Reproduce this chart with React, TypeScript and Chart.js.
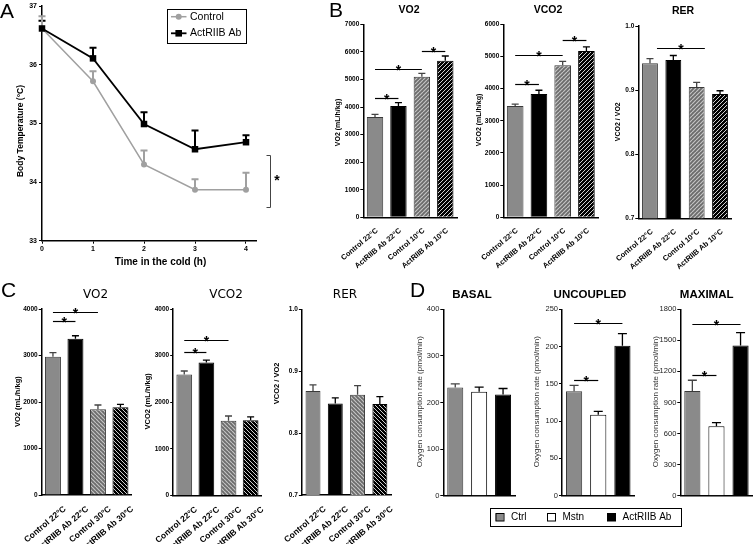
import React, { useEffect, useRef } from "react";
import { Chart, registerables } from "chart.js";

Chart.register(...registerables);

const FONT = "'Liberation Sans', Arial, Helvetica, sans-serif";
Chart.defaults.font.family = FONT;
Chart.defaults.color = "#000";

// ---------------- Panel A data ----------------
const aHours = [0, 1, 2, 3, 4];
const aControlMean = [36.62, 35.72, 34.3, 33.87, 33.87];
const aControlSem = [0.21, 0.17, 0.24, 0.18, 0.29];
const aAbMean = [36.62, 36.11, 34.99, 34.56, 34.68];
const aAbSem = [0.13, 0.18, 0.2, 0.32, 0.12];

// ---------------- Panel B data ----------------
const bLabels = ["Control 22°C", "ActRIIB Ab 22°C", "Control 10°C", "ActRIIB Ab 10°C"];
const bVo2 = [3640, 4040, 5100, 5680];
const bVo2Sem = [95, 120, 120, 170];
const bVco2 = [3460, 3835, 4725, 5170];
const bVco2Sem = [60, 115, 125, 130];
const bRer = [0.942, 0.947, 0.905, 0.894];
const bRerSem = [0.007, 0.007, 0.007, 0.005];
const bVo2Sig = [[0, 1, 4340], [0, 2, 5370], [2, 3, 6030]];
const bVco2Sig = [[0, 1, 4130], [0, 2, 5050], [2, 3, 5510]];
const bRerSig = [[0.3, 2.35, 0.965]];

// ---------------- Panel C data ----------------
const cLabels = ["Control 22°C", "ActRIIB Ab 22°C", "Control 30°C", "ActRIIB Ab 30°C"];
const cVo2 = [2975, 3360, 1845, 1885];
const cVo2Sem = [85, 65, 90, 65];
const cVco2 = [2595, 2855, 1605, 1615];
const cVco2Sem = [75, 50, 100, 70];
const cRer = [0.868, 0.848, 0.862, 0.847];
const cRerSem = [0.01, 0.009, 0.015, 0.012];
const cVo2Sig = [[0, 1, 3735], [0, 2, 3930]];
const cVco2Sig = [[0, 1, 3070], [0, 2, 3340]];

// ---------------- Panel D data ----------------
const dLabels = ["Ctrl", "Mstn", "ActRIIB Ab"];
const dBasal = [232, 223, 217];
const dBasalSem = [8, 10, 13];
const dUncoupled = [140, 108.5, 201];
const dUncoupledSem = [8, 4.5, 16.5];
const dMaximal = [1010, 670, 1450];
const dMaximalSem = [105, 35, 125];
const dUncSig = [[0, 1, 155.5], [0, 2, 231]];
const dMaxSig = [[0, 1, 1163], [0, 2, 1655]];

// ---------------- types ----------------
type Box = { l: number; t: number; r: number; b: number };
type Txt = {
  text: string; x: number; y: number; font: string; color?: string;
  align?: CanvasTextAlign; baseline?: CanvasTextBaseline; rot?: boolean;
};
type Err = { ds: number; sem: number[]; color: string[]; width: number; cap: number };
type Deco = {
  texts: Txt[]; errors: Err[]; errorsBelow?: boolean; sigs?: number[][];
  extra?: (ctx: CanvasRenderingContext2D) => void;
};
type Geo = { x: number; y: number; w: number; h: number; ml: number; mt: number; mr: number; mb: number };
type Spec = { plot: Box; margin: Box; build: (pat: Record<string, any>, g: Geo) => any };

function geom(s: Spec): Geo {
  const x = Math.max(0, Math.floor(s.plot.l - s.margin.l));
  const y = Math.max(0, Math.floor(s.plot.t - s.margin.t));
  const x2 = Math.min(754, Math.ceil(s.plot.r + s.margin.r));
  const y2 = Math.min(544, Math.ceil(s.plot.b + s.margin.b));
  return { x, y, w: x2 - x, h: y2 - y, ml: s.plot.l - x, mt: s.plot.t - y, mr: x2 - s.plot.r, mb: y2 - s.plot.b };
}

function decoPlugin(d: Deco, ox: number, oy: number) {
  const drawErrors = (chart: any) => {
    const ctx: CanvasRenderingContext2D = chart.ctx;
    const ys = chart.scales.y;
    for (const e of d.errors) {
      const meta = chart.getDatasetMeta(e.ds);
      const raw = chart.data.datasets[e.ds].data;
      meta.data.forEach((el: any, i: number) => {
        const r = raw[i];
        const v = typeof r === "number" ? r : r.y;
        const top = ys.getPixelForValue(v + e.sem[i]);
        ctx.save();
        ctx.strokeStyle = e.color[i];
        ctx.lineWidth = e.width;
        ctx.beginPath();
        ctx.moveTo(el.x, el.y);
        ctx.lineTo(el.x, top);
        ctx.moveTo(el.x - e.cap / 2, top);
        ctx.lineTo(el.x + e.cap / 2, top);
        ctx.stroke();
        ctx.restore();
      });
    }
  };
  return {
    id: "deco",
    beforeDatasetsDraw(chart: any) {
      if (d.errorsBelow) drawErrors(chart);
    },
    afterDatasetsDraw(chart: any) {
      if (!d.errorsBelow) drawErrors(chart);
      const ctx: CanvasRenderingContext2D = chart.ctx;
      const xs = chart.scales.x;
      const ys = chart.scales.y;
      for (const s of d.sigs ?? []) {
        const x1 = xs.getPixelForValue(s[0]);
        const x2 = xs.getPixelForValue(s[1]);
        const y = Math.round(ys.getPixelForValue(s[2])) + 0.5;
        ctx.save();
        ctx.strokeStyle = "#000";
        ctx.lineWidth = 1.2;
        ctx.beginPath();
        ctx.moveTo(x1, y);
        ctx.lineTo(x2, y);
        ctx.stroke();
        ctx.fillStyle = "#000";
        ctx.font = `bold 14px ${FONT}`;
        ctx.textAlign = "center";
        ctx.textBaseline = "alphabetic";
        ctx.fillText("*", (x1 + x2) / 2, y + 5.5);
        ctx.restore();
      }
      ctx.save();
      ctx.translate(-ox, -oy);
      for (const t of d.texts) {
        ctx.save();
        ctx.font = t.font;
        ctx.fillStyle = t.color ?? "#000";
        ctx.textAlign = t.align ?? "center";
        ctx.textBaseline = t.baseline ?? "middle";
        ctx.translate(t.x, t.y);
        if (t.rot) ctx.rotate(-Math.PI / 2);
        ctx.fillText(t.text, 0, 0);
        ctx.restore();
      }
      if (d.extra) d.extra(ctx);
      ctx.restore();
    },
  };
}

function makeHatch(base: string, stripe: string, dir: number, lw: number): any {
  const s = 4;
  const c = document.createElement("canvas");
  c.width = s;
  c.height = s;
  const g = c.getContext("2d");
  if (!g) return base;
  g.fillStyle = base;
  g.fillRect(0, 0, s, s);
  g.strokeStyle = stripe;
  g.lineWidth = lw;
  g.beginPath();
  for (const o of [-s, 0, s]) {
    if (dir === 1) {
      g.moveTo(o, s);
      g.lineTo(o + s, 0);
    } else {
      g.moveTo(o, 0);
      g.lineTo(o + s, s);
    }
  }
  g.stroke();
  return g.createPattern(c, "repeat") ?? base;
}

const GRAY = "#8a8a8a";
const BORDER: Record<string, string> = {
  gray: "#3a3a3a", black: "#000", white: "#000",
  grayHatch: "#3a3a3a", blackHatch: "#000", grayHatchB: "#3a3a3a", blackHatchB: "#000",
};
const ERRC: Record<string, string> = {
  gray: "#444", black: "#000", white: "#000",
  grayHatch: "#444", blackHatch: "#000", grayHatchB: "#444", blackHatchB: "#000",
};

type BarParams = {
  plot: Box; margin: Box; labels: string[]; values: number[]; sem: number[]; fills: string[];
  yMin: number; yMax: number; yStep: number; dec: number;
  tickFont: any; tickColor?: string; xFont: any | null; barPct: number; sigs: number[][];
  texts: Txt[]; cap: number; labelOffset?: number; extra?: (ctx: CanvasRenderingContext2D) => void;
};

function barSpec(p: BarParams): Spec {
  return {
    plot: p.plot,
    margin: p.margin,
    build: (pat, g) => ({
      type: "bar",
      data: {
        labels: p.labels,
        datasets: [
          {
            data: p.values,
            backgroundColor: p.fills.map((k) => pat[k]),
            borderColor: p.fills.map((k) => BORDER[k]),
            borderWidth: 1,
            barPercentage: p.barPct,
            categoryPercentage: 1,
          },
        ],
      },
      options: {
        animation: false,
        responsive: false,
        devicePixelRatio: 1,
        events: [],
        layout: { autoPadding: false, padding: { left: 0, top: g.mt, right: g.mr, bottom: 0 } },
        plugins: { legend: { display: false }, tooltip: { enabled: false }, title: { display: false } },
        scales: {
          x: {
            type: "category",
            offset: true,
            grid: { display: false },
            border: { display: true, color: "#000", width: 1.5 },
            ticks: p.xFont
              ? { display: true, font: p.xFont, color: "#000", minRotation: 40, maxRotation: 40, autoSkip: false, padding: 1, labelOffset: p.labelOffset ?? 0 }
              : { display: false },
            afterFit: (s: any) => { s.height = g.mb; },
          },
          y: {
            type: "linear",
            min: p.yMin,
            max: p.yMax,
            ticks: {
              stepSize: p.yStep, includeBounds: false, font: p.tickFont, color: p.tickColor ?? "#000", padding: 1,
              callback: (v: any) => Number(v).toFixed(p.dec),
            },
            grid: { drawOnChartArea: false, drawTicks: true, tickLength: 3, color: "#000", lineWidth: 1 },
            border: { display: true, color: "#000", width: 1.5 },
            afterFit: (s: any) => { s.width = g.ml; },
          },
        },
      },
      plugins: [
        decoPlugin(
          {
            texts: p.texts,
            errors: [{ ds: 0, sem: p.sem, color: p.fills.map((k) => ERRC[k]), width: 1.3, cap: p.cap }],
            sigs: p.sigs,
            extra: p.extra,
          },
          g.x,
          g.y,
        ),
      ],
    }),
  };
}

const boldB = (s: number) => `bold ${s}px ${FONT}`;
const reg = (s: number) => `${s}px ${FONT}`;

// ---------------- Panel A spec ----------------
const specA: Spec = {
  plot: { l: 42, t: 5, r: 256.2, b: 240.7 },
  margin: { l: 42, t: 5, r: 32, b: 30 },
  build: (_pat, g) => ({
    type: "line",
    data: {
      datasets: [
        {
          label: "ActRIIB Ab",
          data: aHours.map((h, i) => ({ x: h, y: aAbMean[i] })),
          borderColor: "#000",
          borderWidth: 1.8,
          pointStyle: "rect",
          pointRadius: 4.6,
          pointBackgroundColor: "#000",
          pointBorderColor: "#000",
          pointBorderWidth: 0,
          clip: false,
          tension: 0,
          order: 1,
        },
        {
          label: "Control",
          data: aHours.map((h, i) => ({ x: h, y: aControlMean[i] })),
          borderColor: "#a0a0a0",
          borderWidth: 1.5,
          pointStyle: "circle",
          pointRadius: 3,
          pointBackgroundColor: "#a0a0a0",
          pointBorderColor: "#a0a0a0",
          pointBorderWidth: 0,
          clip: false,
          tension: 0,
          order: 2,
        },
      ],
    },
    options: {
      animation: false,
      responsive: false,
      devicePixelRatio: 1,
      events: [],
      layout: { autoPadding: false, padding: { left: 0, top: g.mt, right: g.mr, bottom: 0 } },
      plugins: { legend: { display: false }, tooltip: { enabled: false } },
      scales: {
        x: {
          type: "linear",
          min: 0,
          max: 4.2,
          ticks: { stepSize: 1, includeBounds: false, font: { size: 7, weight: "bold" }, color: "#000", padding: 1, callback: (v: any) => String(v) },
          grid: { drawOnChartArea: false, drawTicks: true, tickLength: 3, color: "#000", lineWidth: 1 },
          border: { display: true, color: "#000", width: 1.5 },
          afterFit: (s: any) => { s.height = g.mb; },
        },
        y: {
          type: "linear",
          min: 33,
          max: 37,
          ticks: { stepSize: 1, includeBounds: false, font: { size: 7, weight: "bold" }, color: "#000", padding: 2, callback: (v: any) => String(v) },
          grid: { drawOnChartArea: false, drawTicks: true, tickLength: 3, color: "#000", lineWidth: 1 },
          border: { display: true, color: "#000", width: 1.5 },
          afterFit: (s: any) => { s.width = g.ml; },
        },
      },
    },
    plugins: [
      decoPlugin(
        {
          errorsBelow: true,
          errors: [
            { ds: 0, sem: aAbSem, color: aAbSem.map(() => "#000"), width: 2, cap: 7 },
            { ds: 1, sem: aControlSem, color: aControlSem.map(() => "#a0a0a0"), width: 2, cap: 7 },
          ],
          texts: [
            { text: "A", x: 0, y: 18.3, font: reg(21), align: "left", baseline: "alphabetic" },
            { text: "Body Temperature (°C)", x: 21, y: 131, font: boldB(8.5), rot: true },
            { text: "Time in the cold (h)", x: 160.5, y: 262, font: boldB(10) },
          ],
          extra: (ctx) => {
            ctx.save();
            ctx.strokeStyle = "#000";
            ctx.lineWidth = 1;
            ctx.strokeRect(167.5, 9.5, 79, 34);
            // Control entry
            ctx.strokeStyle = "#a0a0a0";
            ctx.lineWidth = 1.5;
            ctx.beginPath();
            ctx.moveTo(171, 16.7);
            ctx.lineTo(186.5, 16.7);
            ctx.stroke();
            ctx.fillStyle = "#a0a0a0";
            ctx.beginPath();
            ctx.arc(178.7, 16.7, 3, 0, Math.PI * 2);
            ctx.fill();
            // Ab entry
            ctx.strokeStyle = "#000";
            ctx.lineWidth = 1.8;
            ctx.beginPath();
            ctx.moveTo(171, 33.3);
            ctx.lineTo(186.5, 33.3);
            ctx.stroke();
            ctx.fillStyle = "#000";
            ctx.fillRect(175.4, 30, 6.6, 6.6);
            ctx.font = reg(10.5);
            ctx.textAlign = "left";
            ctx.textBaseline = "middle";
            ctx.fillText("Control", 190, 17);
            ctx.fillText("ActRIIB Ab", 190, 33.6);
            // significance bracket
            ctx.strokeStyle = "#444";
            ctx.lineWidth = 1;
            ctx.beginPath();
            ctx.moveTo(266.5, 155.5);
            ctx.lineTo(270.5, 155.5);
            ctx.lineTo(270.5, 207.5);
            ctx.lineTo(266.5, 207.5);
            ctx.stroke();
            ctx.fillStyle = "#000";
            ctx.font = boldB(14);
            ctx.textAlign = "center";
            ctx.textBaseline = "alphabetic";
            ctx.fillText("*", 277, 185);
            ctx.restore();
          },
        },
        g.x,
        g.y,
      ),
    ],
  }),
};

const bTick = { size: 6.5, weight: "bold" };
const bX = { size: 7.5, weight: "bold" };
const cTick = { size: 6.5, weight: "bold" };
const cX = { size: 8.5, weight: "bold" };
const dTick = { size: 7.5 };
const bFills = ["gray", "black", "grayHatch", "blackHatch"];
const cFills = ["gray", "black", "grayHatchB", "blackHatchB"];
const dFills = ["gray", "white", "black"];
const dYTitle = "Oxygen consumption rate (pmol/min)";

const specs: Spec[] = [
  specA,
  barSpec({
    plot: { l: 363.3, t: 24.3, r: 457, b: 217.3 }, margin: { l: 40, t: 24, r: 6, b: 65 },
    labels: bLabels, values: bVo2, sem: bVo2Sem, fills: bFills, yMin: 0, yMax: 7000, yStep: 1000, dec: 0,
    tickFont: bTick, xFont: bX, barPct: 0.7, sigs: bVo2Sig, cap: 7, labelOffset: 2,
    texts: [
      { text: "B", x: 329, y: 17, font: reg(21), align: "left", baseline: "alphabetic" },
      { text: "VO2", x: 409, y: 10, font: boldB(10.5) },
      { text: "VO2 (mL/h/kg)", x: 338, y: 122.5, font: boldB(7), rot: true },
    ],
  }),
  barSpec({
    plot: { l: 503.3, t: 24.3, r: 598.3, b: 217.3 }, margin: { l: 32, t: 24, r: 6, b: 65 },
    labels: bLabels, values: bVco2, sem: bVco2Sem, fills: bFills, yMin: 0, yMax: 6000, yStep: 1000, dec: 0,
    tickFont: bTick, xFont: bX, barPct: 0.7, sigs: bVco2Sig, cap: 7, labelOffset: 2,
    texts: [
      { text: "VCO2", x: 548, y: 10, font: boldB(10.5) },
      { text: "VCO2 (mL/h/kg)", x: 479, y: 120, font: boldB(7), rot: true },
    ],
  }),
  barSpec({
    plot: { l: 638.3, t: 26, r: 731.7, b: 218.3 }, margin: { l: 30, t: 26, r: 20, b: 65 },
    labels: bLabels, values: bRer, sem: bRerSem, fills: bFills, yMin: 0.7, yMax: 1.0, yStep: 0.1, dec: 1,
    tickFont: bTick, xFont: bX, barPct: 0.68, sigs: bRerSig, cap: 7, labelOffset: 2,
    texts: [
      { text: "RER", x: 683, y: 11, font: boldB(10.5) },
      { text: "VCO2 / VO2", x: 618, y: 121.7, font: boldB(7), rot: true },
    ],
  }),
  barSpec({
    plot: { l: 41.7, t: 309, r: 131.7, b: 495 }, margin: { l: 42, t: 30, r: 6, b: 49 },
    labels: cLabels, values: cVo2, sem: cVo2Sem, fills: cFills, yMin: 0, yMax: 4000, yStep: 1000, dec: 0,
    tickFont: cTick, xFont: cX, barPct: 0.71, sigs: cVo2Sig, cap: 7, labelOffset: 12,
    texts: [
      { text: "C", x: 1, y: 297, font: reg(21), align: "left", baseline: "alphabetic" },
      { text: "VO2", x: 95.5, y: 295, font: `12px 'DejaVu Sans', sans-serif` },
      { text: "VO2 (mL/h/kg)", x: 18.3, y: 401.7, font: boldB(7.5), rot: true },
    ],
  }),
  barSpec({
    plot: { l: 170, t: 309, r: 261.7, b: 495.5 }, margin: { l: 30, t: 30, r: 6, b: 48 },
    labels: cLabels, values: cVco2, sem: cVco2Sem, fills: cFills, yMin: 0, yMax: 4000, yStep: 1000, dec: 0,
    tickFont: cTick, xFont: cX, barPct: 0.71, sigs: cVco2Sig, cap: 7, labelOffset: 12,
    texts: [
      { text: "VCO2", x: 226, y: 295, font: `12px 'DejaVu Sans', sans-serif` },
      { text: "VCO2 (mL/h/kg)", x: 148.3, y: 401.3, font: boldB(7.5), rot: true },
    ],
  }),
  barSpec({
    plot: { l: 297, t: 309.5, r: 391, b: 495 }, margin: { l: 28, t: 30, r: 6, b: 49 },
    labels: cLabels, values: cRer, sem: cRerSem, fills: cFills, yMin: 0.7, yMax: 1.0, yStep: 0.1, dec: 1,
    tickFont: cTick, xFont: cX, barPct: 0.67, sigs: [], cap: 7, labelOffset: 12,
    texts: [
      { text: "RER", x: 345, y: 295, font: `12px 'DejaVu Sans', sans-serif` },
      { text: "VCO2 / VO2", x: 276.7, y: 383.3, font: boldB(7.5), rot: true },
    ],
  }),
  barSpec({
    plot: { l: 443.3, t: 309.3, r: 515, b: 495.7 }, margin: { l: 40, t: 30, r: 172, b: 40 },
    labels: dLabels, values: dBasal, sem: dBasalSem, fills: dFills, yMin: 0, yMax: 400, yStep: 100, dec: 0,
    tickFont: dTick, tickColor: "#222", xFont: null, barPct: 0.67, sigs: [], cap: 9,
    texts: [
      { text: "D", x: 410, y: 296.5, font: reg(21), align: "left", baseline: "alphabetic" },
      { text: "BASAL", x: 472, y: 295, font: boldB(11.5) },
      { text: dYTitle, x: 419.3, y: 401.7, font: reg(8), color: "#333", rot: true },
    ],
    extra: (ctx) => {
      ctx.save();
      ctx.strokeStyle = "#000";
      ctx.lineWidth = 1;
      ctx.strokeRect(490.5, 508.5, 191, 18);
      const items: [number, string, string][] = [[495.5, GRAY, dLabels[0]], [547, "#fff", dLabels[1]], [607, "#000", dLabels[2]]];
      ctx.font = reg(10);
      ctx.textAlign = "left";
      ctx.textBaseline = "middle";
      for (const [x, c, t] of items) {
        ctx.fillStyle = c;
        ctx.fillRect(x, 513.5, 8, 7.5);
        ctx.strokeStyle = "#000";
        ctx.strokeRect(x + 0.5, 513.5, 8, 7.5);
        ctx.fillStyle = "#000";
        ctx.fillText(t, x + 15.5, 517.7);
      }
      ctx.restore();
    },
  }),
  barSpec({
    plot: { l: 562, t: 309.3, r: 634.5, b: 495.7 }, margin: { l: 30, t: 30, r: 6, b: 20 },
    labels: dLabels, values: dUncoupled, sem: dUncoupledSem, fills: dFills, yMin: 0, yMax: 250, yStep: 50, dec: 0,
    tickFont: dTick, tickColor: "#222", xFont: null, barPct: 0.67, sigs: dUncSig, cap: 9,
    texts: [
      { text: "UNCOUPLED", x: 590, y: 295, font: boldB(11.5) },
      { text: dYTitle, x: 536.7, y: 401.7, font: reg(8), color: "#333", rot: true },
    ],
  }),
  barSpec({
    plot: { l: 680.3, t: 309.3, r: 752.6, b: 495.7 }, margin: { l: 30, t: 30, r: 2, b: 20 },
    labels: dLabels, values: dMaximal, sem: dMaximalSem, fills: dFills, yMin: 0, yMax: 1800, yStep: 300, dec: 0,
    tickFont: dTick, tickColor: "#222", xFont: null, barPct: 0.67, sigs: dMaxSig, cap: 9,
    texts: [
      { text: "MAXIMAL", x: 706.7, y: 295, font: boldB(11.5) },
      { text: dYTitle, x: 656, y: 401.7, font: reg(8), color: "#333", rot: true },
    ],
  }),
];

export default function App() {
  const refs = useRef<(HTMLCanvasElement | null)[]>([]);
  useEffect(() => {
    const pat: Record<string, any> = {
      gray: GRAY,
      black: "#000",
      white: "#fff",
      grayHatch: makeHatch("#6c6c6c", "#c4c4c4", 1, 1.2),
      blackHatch: makeHatch("#000", "#d0d0d0", 1, 1),
      grayHatchB: makeHatch("#6c6c6c", "#c4c4c4", -1, 1.2),
      blackHatchB: makeHatch("#000", "#d0d0d0", -1, 1),
    };
    const charts = specs.map((s, i) => {
      const cv = refs.current[i];
      if (!cv) return null;
      return new Chart(cv, s.build(pat, geom(s)));
    });
    return () => charts.forEach((c) => c && c.destroy());
  }, []);
  return (
    <div style={{ position: "absolute", left: 0, top: 0, width: 754, height: 544, background: "#fff", overflow: "hidden" }}>
      {specs.map((s, i) => {
        const g = geom(s);
        return (
          <canvas
            key={i}
            ref={(el) => { refs.current[i] = el; }}
            width={g.w}
            height={g.h}
            style={{ position: "absolute", left: g.x, top: g.y, width: g.w, height: g.h }}
          />
        );
      })}
    </div>
  );
}
